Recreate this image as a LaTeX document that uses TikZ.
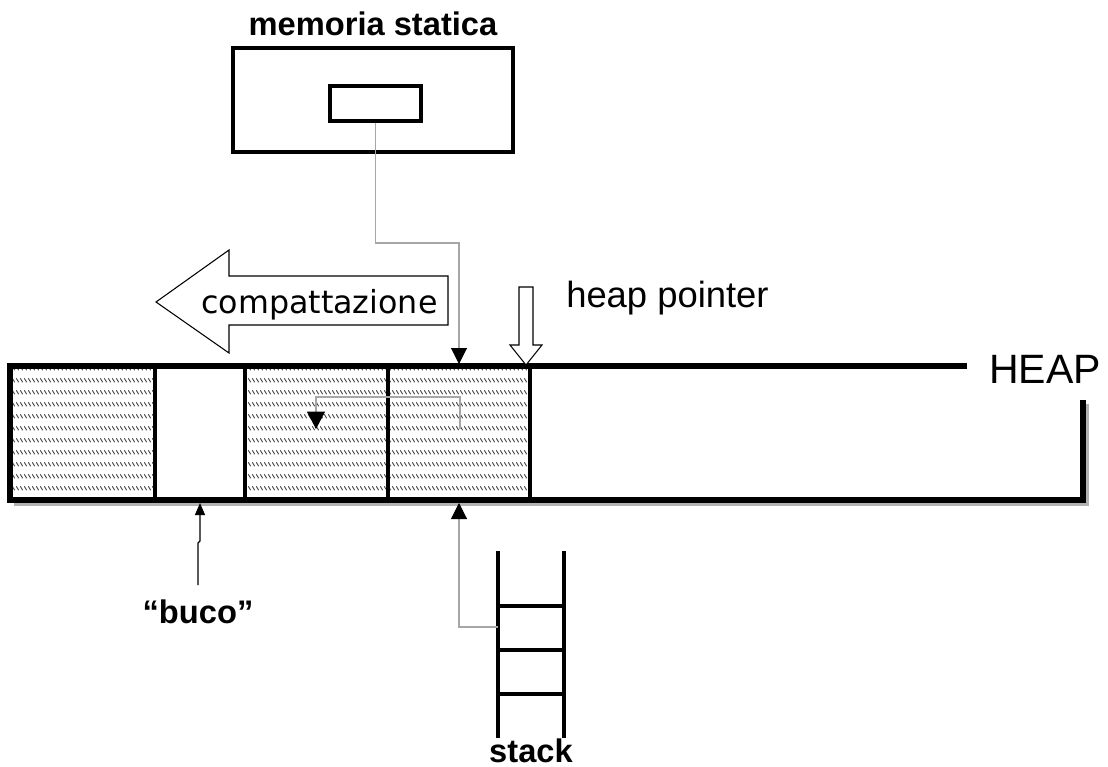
\documentclass[tikz,border=0pt]{standalone}
\usepackage{fontspec}
\setmainfont{Liberation Sans}
\newfontfamily\verd{DejaVu Sans}
\usetikzlibrary{arrows.meta,patterns}
\pgfdeclarepatternformonly{rowhatch}{\pgfpointorigin}{\pgfqpoint{3pt}{9pt}}{\pgfqpoint{3pt}{9pt}}{%
  \pgfsetlinewidth{0.85pt}%
  \pgfpathmoveto{\pgfqpoint{0.3pt}{3.8pt}}%
  \pgfpathlineto{\pgfqpoint{2.5pt}{0.6pt}}%
  \pgfusepath{stroke}}
\tikzset{
  heavy/.style={line width=3.8pt, line join=miter},
  divider/.style={line width=3.3pt},
  shadowline/.style={draw=gray!60, line width=3pt},
  hatched/.style={pattern=rowhatch, pattern color=gray!60!black},
  ptr/.style={draw=gray!70, line width=0.8pt, -{Triangle[color=black,fill=black,width=12pt,length=12pt]}},
  hollow/.style={draw=black, line width=0.8pt, fill=white, line join=miter},
  boldlbl/.style={inner sep=0pt, font=\bfseries\fontsize{24.5pt}{29pt}\selectfont},
  biglbl/.style={inner sep=0pt, font=\fontsize{27.3pt}{32pt}\selectfont},
  rail/.style={line width=3.6pt},
  rung/.style={line width=3.2pt}
}
\begin{document}
\begin{tikzpicture}[x=0.75pt,y=-0.75pt]
\useasboundingbox (0,0) rectangle (1108,767);

% ---------- static memory ----------
\node[boldlbl, anchor=base] (memlbl) at (373,36) {memoria statica};
\node[draw, line width=3pt, minimum width=210pt, minimum height=78pt, inner sep=0pt] (mem) at (373,100) {};
\node[draw, line width=2.3pt, minimum width=68.25pt, minimum height=26.25pt, inner sep=0pt] (var) at (375.5,103.5) {};

% ---------- heap blocks (hatching) ----------
\fill[hatched] (10,366) rectangle (155,500);
\fill[hatched] (245,366) rectangle (388,500);
\fill[hatched] (388,366) rectangle (530,500);

% shadow
\draw[shadowline] (14,504) -- (1087,504) -- (1087,404);
% heap outline
\draw[heavy] (967,366) -- (10,366) -- (10,500) -- (1083,500) -- (1083,400);
\foreach \xx in {155,245,388,530} \draw[divider] (\xx,366) -- (\xx,500);

\node[inner sep=0pt, anchor=base west, font=\fontsize{30.75pt}{36pt}\selectfont] (heaplbl) at (989,383) {HEAP};

% ---------- compattazione arrow ----------
\draw[hollow] (156,302) -- (229,250) -- (229,276) -- (448,276) -- (448,325) -- (229,325) -- (229,353) -- cycle;
\node[inner sep=0pt, anchor=base west, font=\verd\fontsize{23.8pt}{28pt}\selectfont] (comp) at (201,313) {compattazione};

% ---------- heap pointer ----------
\draw[hollow] (519,287) -- (533,287) -- (533,345) -- (542,345) -- (526,365) -- (510,345) -- (519,345) -- cycle;
\node[biglbl, anchor=base west] (hp) at (566,307) {heap pointer};

% ---------- connectors ----------
\coordinate (memtip) at (459,364);
\draw[ptr] (var.south) -- (375.5,243) -| (memtip);

\coordinate (inA) at (460,429);
\coordinate (inB) at (316,429);
\draw[draw=gray!70, line width=0.8pt, -{Triangle[color=black,fill=black,width=13.5pt,length=13pt]}] (inA) |- (316,397) -- (inB);

% ---------- stack ----------
\draw[rail] (498,551) -- (498,738);
\draw[rail] (564,551) -- (564,738);
\foreach \yy in {606,650,694} \draw[rung] (498,\yy) -- (564,\yy);
\coordinate (stk) at (498,627);
\coordinate (stacktip) at (459,503);
\draw[ptr] (stk) -| (stacktip);
\node[boldlbl, anchor=base] (stacklbl) at (531,762) {stack};

% ---------- buco ----------
\node[boldlbl, anchor=base] (buco) at (198,623) {“buco”};
\coordinate (bucoS) at (198,585);
\coordinate (bucotip) at (200,503);
\draw[line width=0.9pt, -{Triangle[width=7.5pt,length=9pt]}] (bucoS) -- (198,543) -- (200,541) -- (bucotip);
\end{tikzpicture}
\end{document}
